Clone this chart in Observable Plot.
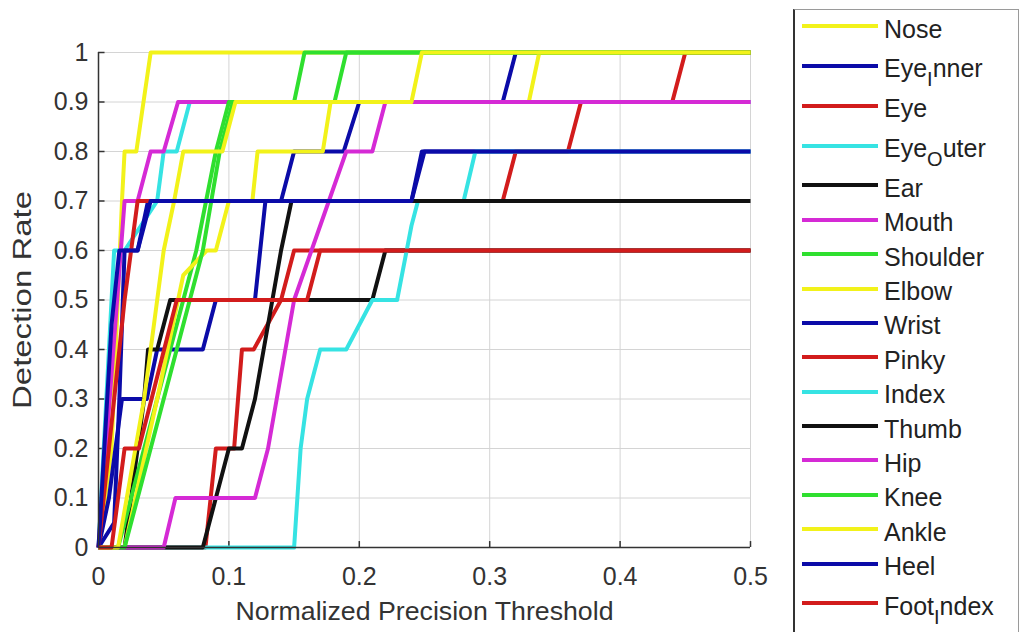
<!DOCTYPE html>
<html>
<head>
<meta charset="utf-8">
<script src="https://cdn.jsdelivr.net/npm/d3@7"></script>
<script src="https://cdn.jsdelivr.net/npm/@observablehq/plot@0.6"></script>
<style>
  html, body { margin: 0; padding: 0; background: #fff; }
  body { width: 1025px; height: 632px; overflow: hidden; position: relative; font-family: "Liberation Sans", Arial, sans-serif; }
  #chart { position: absolute; left: 0; top: 0; }
  #legend { position: absolute; left: 793px; top: 9px; width: 226px; height: 640px; box-sizing: border-box;
            border: 1px solid #9a9a9a; border-left: 2px solid #333; background: #fff; padding-top: 0px; }
  .row { display: flex; align-items: center; height: 34.4px; }
  .row.sub { height: 45.2px; }
  .swatch { width: 76px; height: 0; border-top: 4px solid; margin-left: 7px; margin-right: 6px; flex: none; position: relative; top: -1px; }
  .lab { font-size: 25px; color: #222; line-height: 1; position: relative; top: 2px; white-space: nowrap; }
  .lab .s { font-size: 0.8em; position: relative; top: 0.45em; }
</style>
</head>
<body>
<div id="chart"></div>
<div id="legend"></div>
<script>
// ---- data ----
const seriesNames = ["Nose","Eye_Inner","Eye","Eye_Outer","Ear","Mouth","Shoulder","Elbow","Wrist","Pinky","Index","Thumb","Hip","Knee","Ankle","Heel","Foot_Index"];
const palette = ["#f2f21a","#0b0ba8","#d21c1c","#36e3e3","#111111","#d52ad5","#2fdf2f"];

const nose      = [[0,0],[0.01,0.2],[0.018,0.7],[0.02,0.8],[0.029,0.8],[0.04,1],[0.5,1]];
const eyeInner  = [[0,0],[0.008,0.1],[0.018,0.3],[0.037,0.3],[0.045,0.4],[0.08,0.4],[0.09,0.5],[0.12,0.5],[0.128,0.7],[0.14,0.7],[0.15,0.8],[0.188,0.8],[0.2,0.9],[0.31,0.9],[0.32,1],[0.5,1]];
const eye       = [[0,0],[0.082,0],[0.09,0.2],[0.104,0.2],[0.11,0.4],[0.119,0.4],[0.14,0.5],[0.15,0.6],[0.5,0.6]];
const eyeOuter  = [[0,0],[0.006,0.3],[0.012,0.6],[0.02,0.6],[0.045,0.7],[0.05,0.8],[0.06,0.8],[0.07,0.9],[0.5,0.9]];
const ear       = [[0,0],[0.02,0],[0.03,0.2],[0.035,0.3],[0.038,0.4],[0.045,0.4],[0.055,0.5],[0.21,0.5],[0.22,0.6],[0.5,0.6]];
const mouth     = [[0,0],[0.02,0.7],[0.03,0.7],[0.04,0.8],[0.05,0.8],[0.061,0.9],[0.5,0.9]];
const shoulder  = [[0,0],[0.015,0],[0.03,0.15],[0.05,0.35],[0.075,0.6],[0.09,0.8],[0.1,0.9],[0.15,0.9],[0.158,1],[0.5,1]];
const elbow     = [[0,0],[0.02,0],[0.045,0.3],[0.065,0.55],[0.083,0.6],[0.09,0.6],[0.1,0.7],[0.118,0.7],[0.122,0.8],[0.172,0.8],[0.178,0.9],[0.33,0.9],[0.338,1],[0.5,1]];
const wrist     = [[0,0],[0.012,0.05],[0.016,0.3],[0.02,0.6],[0.03,0.6],[0.038,0.7],[0.24,0.7],[0.248,0.8],[0.5,0.8]];
const pinky     = [[0,0],[0.008,0.2],[0.02,0.5],[0.03,0.7],[0.31,0.7],[0.32,0.8],[0.36,0.8],[0.37,0.9],[0.44,0.9],[0.45,1],[0.5,1]];
const indexF    = [[0,0],[0.15,0],[0.155,0.2],[0.16,0.3],[0.17,0.4],[0.19,0.4],[0.21,0.5],[0.229,0.5],[0.24,0.65],[0.245,0.7],[0.28,0.7],[0.289,0.8],[0.5,0.8]];
const thumb     = [[0,0],[0.08,0],[0.09,0.1],[0.1,0.2],[0.11,0.2],[0.12,0.3],[0.13,0.45],[0.14,0.6],[0.148,0.7],[0.5,0.7]];
const hip       = [[0,0],[0.05,0],[0.059,0.1],[0.12,0.1],[0.13,0.2],[0.14,0.35],[0.15,0.5],[0.17,0.65],[0.19,0.8],[0.21,0.8],[0.22,0.9],[0.5,0.9]];
const knee      = [[0,0],[0.02,0],[0.035,0.15],[0.055,0.35],[0.08,0.6],[0.093,0.8],[0.103,0.9],[0.181,0.9],[0.19,1],[0.5,1]];
const ankle     = [[0,0],[0.015,0],[0.035,0.3],[0.05,0.6],[0.058,0.7],[0.065,0.8],[0.095,0.8],[0.105,0.9],[0.24,0.9],[0.248,1],[0.5,1]];
const heel      = [[0,0],[0.01,0.45],[0.016,0.6],[0.03,0.6],[0.04,0.7],[0.24,0.7],[0.25,0.8],[0.5,0.8]];
const footIndex = [[0,0],[0.01,0],[0.02,0.2],[0.031,0.2],[0.06,0.5],[0.16,0.5],[0.17,0.6],[0.5,0.6]];

const seriesPoints = [nose, eyeInner, eye, eyeOuter, ear, mouth, shoulder, elbow, wrist, pinky, indexF, thumb, hip, knee, ankle, heel, footIndex];
const xTicks = [0, 0.1, 0.2, 0.3, 0.4, 0.5];
const yTicks = [0, 0.1, 0.2, 0.3, 0.4, 0.5, 0.6, 0.7, 0.8, 0.9, 1];
const xTitle = "Normalized Precision Threshold";
const yTitle = "Detection Rate";

// ---- build ----
const seriesColors = seriesNames.map((_, i) => palette[i % palette.length]);
const data = seriesPoints.flatMap((pts, i) => pts.map(([x, y]) => ({series: seriesNames[i], x, y})));
const fmt = d => String(+d.toFixed(1));

const chart = Plot.plot({
  width: 790,
  height: 632,
  marginLeft: 98,
  marginRight: 40,
  marginTop: 52,
  marginBottom: 85,
  style: {fontFamily: '"Liberation Sans", Arial, sans-serif', fontSize: "25px", color: "#333", background: "#fff"},
  x: {domain: [0, 0.5]},
  y: {domain: [0, 1]},
  color: {domain: seriesNames, range: seriesColors},
  marks: [
    Plot.gridX(xTicks, {stroke: "#d4d4d4", strokeOpacity: 1, strokeWidth: 1}),
    Plot.gridY(yTicks, {stroke: "#d4d4d4", strokeOpacity: 1, strokeWidth: 1}),
    Plot.ruleX(xTicks, {y1: 0, y2: 0.012, stroke: "#333", strokeWidth: 1.5}),
    Plot.ruleY(yTicks, {x1: 0, x2: 0.005, stroke: "#333", strokeWidth: 1.5}),
    Plot.line(data, {x: "x", y: "y", z: "series", stroke: "series", strokeWidth: 4, strokeLinejoin: "round", strokeLinecap: "butt"}),
    Plot.ruleX([0], {stroke: "#333", strokeWidth: 1.5}),
    Plot.ruleY([0], {stroke: "#333", strokeWidth: 1.5}),
    Plot.axisX(xTicks, {tickSize: 0, tickPadding: 20, tickFormat: fmt, label: null, fill: "#333"}),
    Plot.axisY(yTicks, {tickSize: 0, tickPadding: 10, tickFormat: fmt, label: null, fill: "#333"}),
    Plot.text([xTitle], {frameAnchor: "bottom", dy: 64, lineAnchor: "middle", textAnchor: "middle", fontSize: 26, fill: "#333", className: "xtitle"}),
    Plot.text([yTitle], {frameAnchor: "left", dx: -76, rotate: -90, lineAnchor: "middle", textAnchor: "middle", fontSize: 26, fill: "#333", className: "ytitle"})
  ]
});
document.getElementById("chart").appendChild(chart);
// stretch axis titles to the lengths seen in the reference
chart.querySelectorAll(".xtitle text").forEach(t => { t.setAttribute("textLength", 378); t.setAttribute("lengthAdjust", "spacingAndGlyphs"); });
chart.querySelectorAll(".ytitle text").forEach(t => { t.setAttribute("textLength", 218); t.setAttribute("lengthAdjust", "spacingAndGlyphs"); });

// ---- legend ----
const legend = document.getElementById("legend");
seriesNames.forEach((name, i) => {
  const row = document.createElement("div");
  const parts = name.split("_");
  row.className = "row" + (parts.length > 1 ? " sub" : "");
  const sw = document.createElement("div");
  sw.className = "swatch";
  sw.style.borderTopColor = seriesColors[i];
  const lab = document.createElement("span");
  lab.className = "lab";
  if (parts.length > 1) {
    lab.appendChild(document.createTextNode(parts[0]));
    const s = document.createElement("span");
    s.className = "s";
    s.textContent = parts[1][0];
    lab.appendChild(s);
    lab.appendChild(document.createTextNode(parts[1].slice(1)));
  } else {
    lab.textContent = name;
  }
  row.appendChild(sw);
  row.appendChild(lab);
  legend.appendChild(row);
});
</script>
</body>
</html>
